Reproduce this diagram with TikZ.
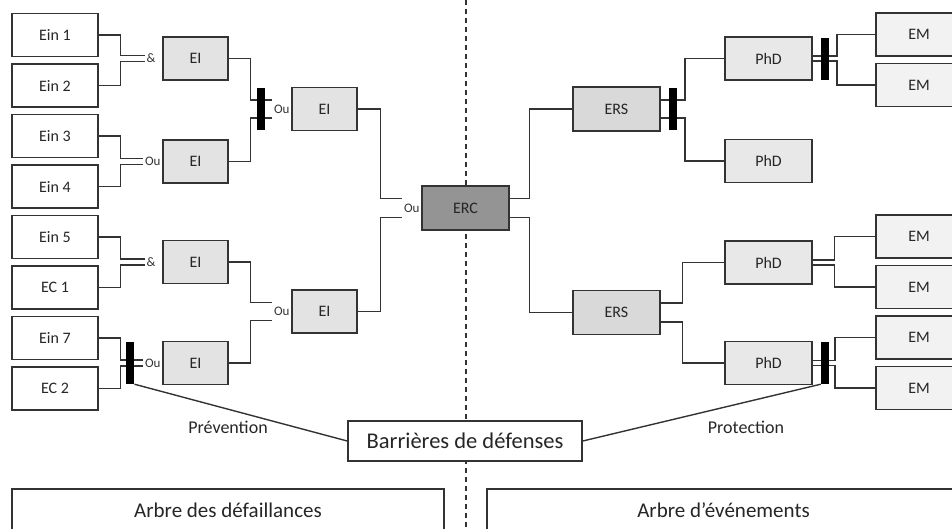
\documentclass[tikz,border=0pt]{standalone}
\usepackage{fontspec}
\setmainfont{Carlito}
\usetikzlibrary{positioning}
\tikzset{
    box/.style={rectangle, draw=black!80, line width=1.5pt, minimum height=43pt, text=black!85, font=\fontsize{16}{19}\selectfont},
    ein/.style={box, fill=white, minimum width=86pt},
    ei/.style={box, fill=black!11, minimum width=65pt},
    erc/.style={box, fill=black!42, minimum width=87pt, minimum height=44pt},
    ers/.style={box, fill=black!15, minimum width=87pt, minimum height=44pt},
    phd/.style={box, fill=black!9, minimum width=87pt},
    em/.style={box, fill=black!5, minimum width=86pt},
    bar/.style={rectangle, fill=black, minimum width=8pt, minimum height=42pt, inner sep=0pt},
    gate/.style={inner xsep=1.5pt, inner ysep=1pt, text=black!80, font=\fontsize{13}{15}\selectfont},
    wire/.style={draw=black!80, line width=1.4pt},
    big/.style={rectangle, draw=black!80, line width=1.5pt, fill=white, text=black!85, font=\fontsize{21}{24}\selectfont},
    side/.style={text=black!85, font=\fontsize{18}{21}\selectfont},
}

\begin{document}
\begin{tikzpicture}[x=1pt, y=-1pt]
    \useasboundingbox (0,0) rectangle (952,528);
    \clip (0,0) rectangle (952,528);

    % divider
    \coordinate (top) at (466,0);
    \coordinate (bottom) at (466,528);
    \draw [black!80, line width=1.3pt, dash pattern=on 5pt off 4pt] (top) -- (bottom);

    % fault tree
    \node [ein] (ein1) at (55,35) {Ein 1};
    \node [ein] (ein2) [below=6pt of ein1] {Ein 2};
    \node [ein] (ein3) [below=6pt of ein2] {Ein 3};
    \node [ein] (ein4) [below=6pt of ein3] {Ein 4};
    \node [ein] (ein5) [below=6pt of ein4] {Ein 5};
    \node [ein] (ec1) [below=6pt of ein5] {EC 1};
    \node [ein] (ein7) [below=6pt of ec1] {Ein 7};
    \node [ein] (ec2) [below=6pt of ein7] {EC 2};

    \node [ei] (ei1) at (195.5,58.5) {EI};
    \node [ei] (ei2) at (195.5,161.5) {EI};
    \node [ei] (ei3) at (195.5,262) {EI};
    \node [ei] (ei4) at (195.5,363) {EI};
    \node [ei] (eia) at (324.5,109) {EI};
    \node [ei] (eib) at (324.5,311.5) {EI};
    \node [erc] (erc) at (465.5,208) {ERC};

    \node [gate] (and1) [left=5pt of ei1] {\&};
    \node [gate] (or2) [left=0pt of ei2] {Ou};
    \node [gate] (and3) [left=5pt of ei3] {\&};
    \node [gate] (or4) [left=0pt of ei4] {Ou};
    \node [gate] (or5) [left=0pt of eia] {Ou};
    \node [gate] (or6) [left=0pt of eib] {Ou};
    \node [gate] (or7) [left=0pt of erc] {Ou};
    \node [bar] (bar2) [left=9pt of or4] {};
    \node [bar] (bar1) [left=7pt of or5] {};

    \draw [wire] (ein1.east) -- ++(22pt,0) |- ([yshift=3pt]and1.west);
    \draw [wire] (ein2.east) -- ++(22pt,0) |- ([yshift=-3pt]and1.west);
    \draw [wire] (ein3.east) -- ++(22pt,0) |- ([yshift=3pt]or2.west);
    \draw [wire] (ein4.east) -- ++(22pt,0) |- ([yshift=-3pt]or2.west);
    \draw [wire] (ein5.east) -- ++(22pt,0) |- ([yshift=3pt]and3.west);
    \draw [wire] (ec1.east) -- ++(22pt,0) |- ([yshift=-3pt]and3.west);
    \draw [wire] (ein7.east) -- ++(22pt,0) |- ([yshift=3pt]bar2.west);
    \draw [wire] (ec2.east) -- ++(22pt,0) |- ([yshift=-3pt]bar2.west);
    \draw [wire] ([yshift=3pt]bar2.east) -- ([yshift=3pt]or4.west);
    \draw [wire] ([yshift=-3pt]bar2.east) -- ([yshift=-3pt]or4.west);

    \draw [wire] (ei1.east) -- ++(22pt,0) |- ([yshift=9pt]bar1.west);
    \draw [wire] (ei2.east) -- ++(22pt,0) |- ([yshift=-9pt]bar1.west);
    \draw [wire] ([yshift=9pt]bar1.east) -- ([yshift=9pt]bar1.east -| or5.west);
    \draw [wire] ([yshift=-9pt]bar1.east) -- ([yshift=-9pt]bar1.east -| or5.west);
    \draw [wire] (ei3.east) -- ++(22pt,0) |- ([yshift=9pt]or6.west);
    \draw [wire] (ei4.east) -- ++(22pt,0) |- ([yshift=-9pt]or6.west);
    \draw [wire] (eia.east) -- ++(23pt,0) |- ([yshift=9.5pt]or7.west);
    \draw [wire] (eib.east) -- ++(23pt,0) |- ([yshift=-9.5pt]or7.west);

    % event tree
    \node [ers] (ersa) at (616.5,109) {ERS};
    \node [ers] (ersb) at (616.5,312.5) {ERS};
    \node [phd] (phd1) at (768.5,58.5) {PhD};
    \node [phd] (phd2) at (768.5,161) {PhD};
    \node [phd] (phd3) at (768.5,262.5) {PhD};
    \node [phd] (phd4) at (768.5,363) {PhD};
    \node [em] (em1) at (919,34.5) {EM};
    \node [em] (em2) [below=6pt of em1] {EM};
    \node [em] (em3) at (919,236.5) {EM};
    \node [em] (em4) [below=6pt of em3] {EM};
    \node [em] (em5) [below=6pt of em4] {EM};
    \node [em] (em6) [below=6pt of em5] {EM};
    \node [bar] (bar3) [right=8pt of ersa] {};
    \node [bar] (bar4) [right=8pt of phd1] {};
    \node [bar] (bar5) [right=8pt of phd4] {};

    \draw [wire] ([yshift=9.5pt]erc.east) -- ++(20pt,0) |- (ersa.west);
    \draw [wire] ([yshift=-9.5pt]erc.east) -- ++(20pt,0) |- (ersb.west);
    \draw [wire] ([yshift=9pt]ersa.east) -- ([yshift=9pt]bar3.west);
    \draw [wire] ([yshift=-9pt]ersa.east) -- ([yshift=-9pt]bar3.west);
    \draw [wire] ([yshift=9pt]bar3.east) -- ++(8pt,0) |- (phd1.west);
    \draw [wire] ([yshift=-9pt]bar3.east) -- ++(8pt,0) |- (phd2.west);
    \draw [wire] ([yshift=2.5pt]phd1.east) -- ([yshift=2.5pt]bar4.west);
    \draw [wire] ([yshift=-2.5pt]phd1.east) -- ([yshift=-2.5pt]bar4.west);
    \draw [wire] ([yshift=2.5pt]bar4.east) -- ++(8pt,0) |- (em1.west);
    \draw [wire] ([yshift=-2.5pt]bar4.east) -- ++(8pt,0) |- (em2.west);
    \draw [wire] ([yshift=9.5pt]ersb.east) -- ++(22pt,0) |- (phd3.west);
    \draw [wire] ([yshift=-9.5pt]ersb.east) -- ++(22pt,0) |- (phd4.west);
    \draw [wire] ([yshift=2.5pt]phd3.east) -- ++(22pt,0) |- (em3.west);
    \draw [wire] ([yshift=-2.5pt]phd3.east) -- ++(22pt,0) |- (em4.west);
    \draw [wire] ([yshift=2.5pt]phd4.east) -- ([yshift=2.5pt]bar5.west);
    \draw [wire] ([yshift=-2.5pt]phd4.east) -- ([yshift=-2.5pt]bar5.west);
    \draw [wire] ([yshift=2.5pt]bar5.east) -- ++(6pt,0) |- (em5.west);
    \draw [wire] ([yshift=-2.5pt]bar5.east) -- ++(6pt,0) |- (em6.west);

    % barriers
    \node [big, minimum width=234pt, minimum height=40pt, font=\fontsize{22.5}{26}\selectfont] (barr) at (465,441) {Barrières de défenses};
    \draw [wire] (bar2.south east) -- (barr.west);
    \draw [wire] (bar5.south west) -- (barr.east);
    \node [side] (prev) at (228,427) {Prévention};
    \node [side] (prot) at (746,427) {Protection};

    \node [big, minimum width=432pt, minimum height=42pt] (fta) at (228,510) {Arbre des défaillances};
    \node [big, minimum width=473pt, minimum height=42pt] (eta) at (723.5,510) {Arbre d’événements};
\end{tikzpicture}
\end{document}
